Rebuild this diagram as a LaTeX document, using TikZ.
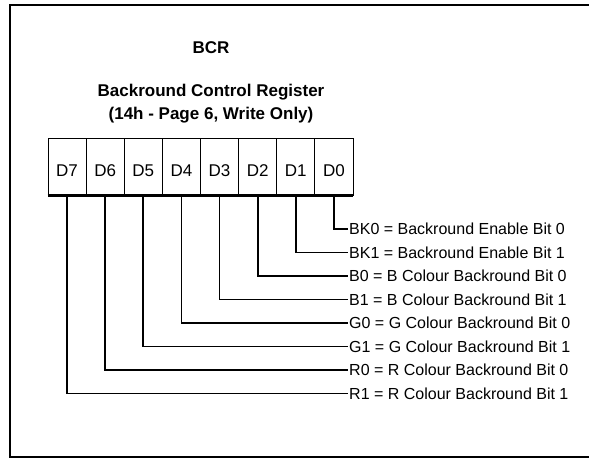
\documentclass[tikz,border=0pt]{standalone}
\usepackage{fontspec}
\setmainfont{Liberation Sans}
\usetikzlibrary{positioning}

\tikzset{
  bitcell/.style={draw, line width=0.9pt, minimum width=38.1pt, minimum height=57pt, inner sep=0pt, text height=20pt, text depth=0pt, font=\fontsize{17}{19}\selectfont},
  bitlabel/.style={anchor=west, inner sep=1pt, font=\fontsize{16}{19}\selectfont},
  regtitle/.style={align=center, font=\fontsize{17}{23}\selectfont\bfseries},
  lead/.style={line width=1.7pt},
}

\begin{document}
\begin{tikzpicture}[x=1pt, y=-1pt]
  \useasboundingbox (0,0) rectangle (589,462);
  \draw[line width=2.6pt] (600,5) -- (10,5) -- (10,457) -- (600,457);

  % register titles
  \node[regtitle] (bcr) at (211,48) {BCR};
  \node[regtitle] (regname) at (211,104) {Backround Control Register\\(14h - Page 6, Write Only)};

  % the eight bit cells, D7 on the left
  \foreach \i in {0,...,7} {
    \node[bitcell] (d\i) at ({48+38.125*(7-\i)+19.06},166.5) {D\i};
  }
  \draw[line width=2.4pt] (d7.south west) -- (d0.south east);

  % bit meanings
  \foreach \i/\yy/\txt in {
      0/229/{BK0 = Backround Enable Bit 0},
      1/252.5/{BK1 = Backround Enable Bit 1},
      2/276/{B0 = B Colour Backround Bit 0},
      3/299.5/{B1 = B Colour Backround Bit 1},
      4/323/{G0 = G Colour Backround Bit 0},
      5/346.5/{G1 = G Colour Backround Bit 1},
      6/370/{R0 = R Colour Backround Bit 0},
      7/393.5/{R1 = R Colour Backround Bit 1}} {
    \node[bitlabel] (b\i) at (348,\yy) {\txt};
    \draw[lead] (d\i.south) |- (b\i.west);
  }
\end{tikzpicture}
\end{document}
